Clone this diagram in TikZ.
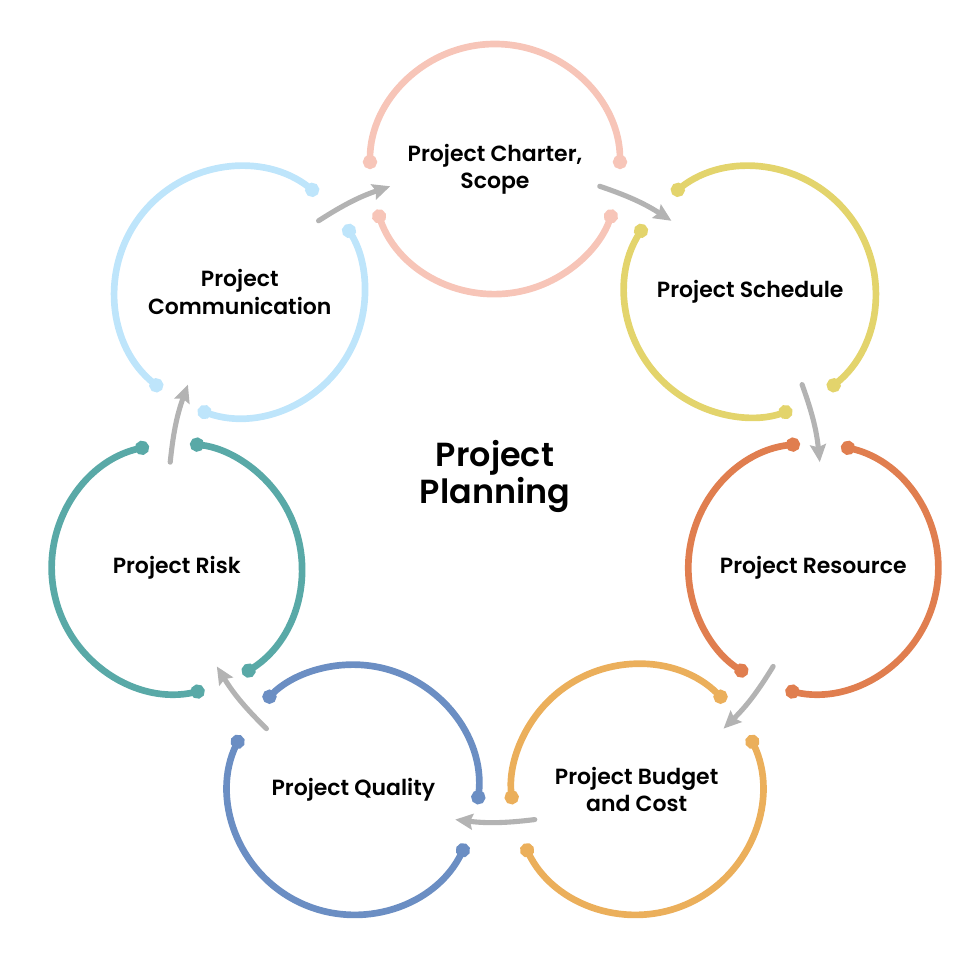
\documentclass[tikz,border=0pt]{standalone}
\usepackage{fontspec}
\setmainfont{Poppins}
\newfontfamily\labelfont{Poppins SemiBold}
\usetikzlibrary{arrows.meta}

\definecolor{chartercol}{HTML}{F7C5B8}
\definecolor{schedulecol}{HTML}{E3D46C}
\definecolor{resourcecol}{HTML}{E07E4F}
\definecolor{budgetcol}{HTML}{EBAF5B}
\definecolor{qualitycol}{HTML}{6B8EC3}
\definecolor{riskcol}{HTML}{59A9A7}
\definecolor{commcol}{HTML}{BEE5FB}
\definecolor{flowgray}{HTML}{B3B3B3}

\tikzset{
  ring/.style={line width=3.8pt, {Circle[length=8pt]}-{Circle[length=8pt]}},
  flow/.style={draw=flowgray, line width=2.9pt, line cap=round,
    -{Stealth[length=10pt, width=9pt, inset=1.5pt]}},
  stage/.style={align=center, text=black, font=\labelfont\fontsize{12.5}{15.5}\selectfont},
  headline/.style={align=center, text=black, font=\labelfont\fontsize{19}{21.5}\selectfont},
}

\begin{document}
\begin{tikzpicture}[x=0.02cm, y=0.02cm]
    \useasboundingbox (-495,-484.5) rectangle (485,495.5);

    % Stages round the cycle
    \node[stage] (charter) at (90:326.5) {Project Charter,\\Scope};
    \node[stage] (schedule) at (38.571:326.5) {Project Schedule};
    \node[stage] (resource) at (-12.857:326.5) {Project Resource};
    \node[stage] (budget) at (-64.286:326.5) {Project Budget\\and Cost};
    \node[stage] (quality) at (-115.714:326.5) {Project Quality};
    \node[stage] (risk) at (-167.143:326.5) {Project Risk};
    \node[stage] (comm) at (141.429:326.5) {Project\\Communication};

    % Centre title
    \node[headline] (planning) at (0,19) {Project\\Planning};

    % Rings, two arcs each
    \draw[ring, chartercol] ([shift={(0:125)}]charter.center) arc[start angle=0, end angle=180, radius=125];
    \draw[ring, chartercol] ([shift={(199:125)}]charter.center) arc[start angle=199, end angle=341, radius=125];

    \draw[ring, schedulecol] ([shift={(-51.429:125)}]schedule.center) arc[start angle=-51.429, end angle=128.571, radius=125];
    \draw[ring, schedulecol] ([shift={(147.571:125)}]schedule.center) arc[start angle=147.571, end angle=289.571, radius=125];

    \draw[ring, resourcecol] ([shift={(-102.857:125)}]resource.center) arc[start angle=-102.857, end angle=77.143, radius=125];
    \draw[ring, resourcecol] ([shift={(96.143:125)}]resource.center) arc[start angle=96.143, end angle=238.143, radius=125];

    \draw[ring, budgetcol] ([shift={(-154.286:125)}]budget.center) arc[start angle=-154.286, end angle=25.714, radius=125];
    \draw[ring, budgetcol] ([shift={(44.714:125)}]budget.center) arc[start angle=44.714, end angle=186.714, radius=125];

    \draw[ring, qualitycol] ([shift={(-205.714:125)}]quality.center) arc[start angle=-205.714, end angle=-25.714, radius=125];
    \draw[ring, qualitycol] ([shift={(-6.714:125)}]quality.center) arc[start angle=-6.714, end angle=135.286, radius=125];

    \draw[ring, riskcol] ([shift={(-257.143:125)}]risk.center) arc[start angle=-257.143, end angle=-77.143, radius=125];
    \draw[ring, riskcol] ([shift={(-58.143:125)}]risk.center) arc[start angle=-58.143, end angle=83.857, radius=125];

    \draw[ring, commcol] ([shift={(51.429:125)}]comm.center) arc[start angle=51.429, end angle=231.429, radius=125];
    \draw[ring, commcol] ([shift={(250.429:125)}]comm.center) arc[start angle=250.429, end angle=392.429, radius=125];

    % Ends of the arrows between rings
    \coordinate (charter-out) at (71.286:326.5);
    \coordinate (schedule-in) at (57.286:326.5);
    \coordinate (schedule-out) at (19.857:326.5);
    \coordinate (resource-in) at (5.857:326.5);
    \coordinate (resource-out) at (-31.571:326.5);
    \coordinate (budget-in) at (-45.571:326.5);
    \coordinate (budget-out) at (-83:326.5);
    \coordinate (quality-in) at (-97:326.5);
    \coordinate (quality-out) at (-134.429:326.5);
    \coordinate (risk-in) at (-148.429:326.5);
    \coordinate (risk-out) at (174.143:326.5);
    \coordinate (comm-in) at (160.143:326.5);
    \coordinate (comm-out) at (122.714:326.5);
    \coordinate (charter-in) at (108.714:326.5);

    % Arrows
    \draw[flow] (charter-out) to[bend left=7] (schedule-in);
    \draw[flow] (schedule-out) to[bend left=7] (resource-in);
    \draw[flow] (resource-out) to[bend left=7] (budget-in);
    \draw[flow] (budget-out) to[bend left=7] (quality-in);
    \draw[flow] (quality-out) to[bend left=7] (risk-in);
    \draw[flow] (risk-out) to[bend left=7] (comm-in);
    \draw[flow] (comm-out) to[bend left=7] (charter-in);
\end{tikzpicture}
\end{document}
